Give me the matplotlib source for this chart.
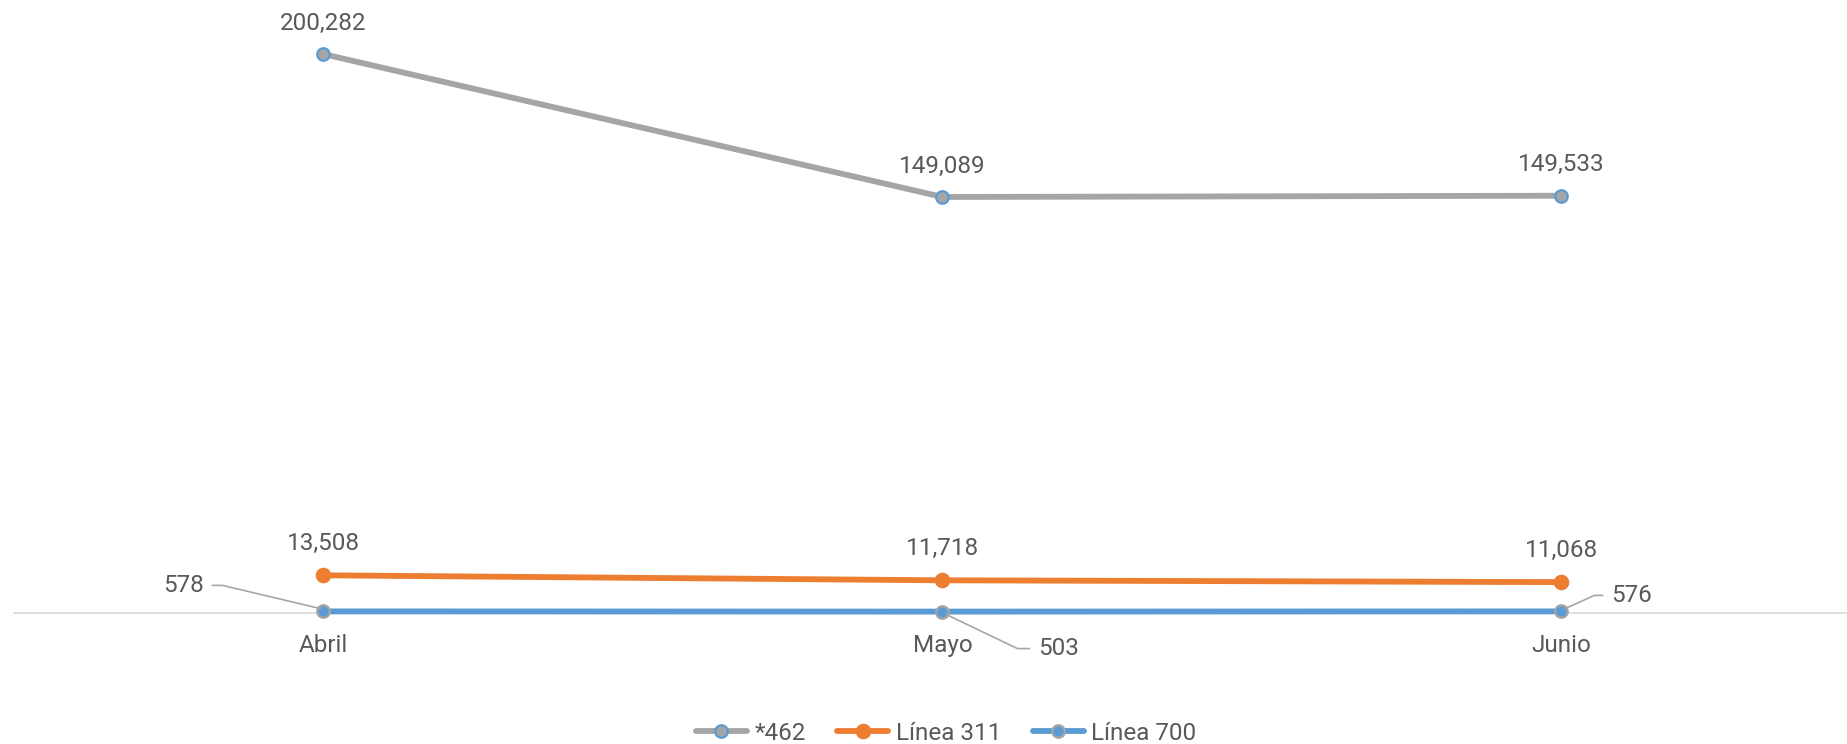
import matplotlib.pyplot as plt
from matplotlib.lines import Line2D
from matplotlib.transforms import IdentityTransform

plt.rcParams['font.family'] = ['Roboto', 'DejaVu Sans']

# datos
meses = ["Abril", "Mayo", "Junio"]
serie_462 = [200282, 149089, 149533]
linea_311 = [13508, 11718, 11068]
linea_700 = [578, 503, 576]

gris = "#A5A5A5"
naranja = "#ED7D31"
azul = "#5B9BD5"
texto = "#595959"

W, H = 1847, 744
fig = plt.figure(figsize=(W / 100, H / 100), dpi=100)
# area de trazado en pixeles
left, bottom = 14, 131
ax = fig.add_axes([left / W, bottom / H, (W - left) / W, 586 / H])

x = list(range(len(meses)))
ax.plot(x, serie_462, color=gris, lw=4.2, marker="o", ms=9,
        mfc=gris, mec=azul, mew=1.6, label="*462", solid_capstyle="round",
        clip_on=False, zorder=3)
ax.plot(x, linea_311, color=naranja, lw=4.2, marker="o", ms=10,
        mfc=naranja, mec=naranja, mew=1.2, label="Línea 311", solid_capstyle="round",
        clip_on=False, zorder=3)
ax.plot(x, linea_700, color=azul, lw=4.2, marker="o", ms=9,
        mfc=azul, mec=gris, mew=1.6, label="Línea 700", solid_capstyle="round",
        clip_on=False, zorder=3)

ax.set_xlim(-0.5, 2.5 - 24 / 619.5)
ax.set_ylim(0, 210000)

# etiquetas de datos
for xi, v in zip(x, serie_462):
    ax.annotate(f"{v:,}", (xi, v), xytext=(0, 31), textcoords="offset pixels",
                ha="center", va="center", fontsize=17.5, color=texto)
for xi, v in zip(x, linea_311):
    ax.annotate(f"{v:,}", (xi, v), xytext=(0, 32), textcoords="offset pixels",
                ha="center", va="center", fontsize=17.5, color=texto)

# etiquetas con lineas guia para Linea 700 (desplazamientos en pixeles)
# (texto dx, dy, codo dx, extremo dx)
guias = [(-140, 26, -101, -111),
         (116, -37, 75, 87),
         (70, 16, 33, 41)]
for xi, v, (tx, ty, kx, ex) in zip(x, linea_700, guias):
    px, py = ax.transData.transform((xi, v))
    fig.add_artist(Line2D([px + 4 * (1 if kx > 0 else -1), px + kx, px + ex],
                          [py + (3 if ty > 0 else -3), py + ty, py + ty],
                          transform=IdentityTransform(), color="#A6A6A6", lw=1.2,
                          zorder=1))
    ax.annotate(f"{v:,}", (xi, v), xytext=(tx, ty), textcoords="offset pixels",
                ha="center", va="center", fontsize=17.5, color=texto)

for s in ["top", "right", "left"]:
    ax.spines[s].set_visible(False)
ax.spines["bottom"].set_color("#D9D9D9")
ax.spines["bottom"].set_linewidth(1.2)
ax.set_yticks([])
ax.set_xticks(x)
ax.set_xticklabels(meses, fontsize=17.5, color=texto)
ax.tick_params(axis="x", length=0, pad=15)

fig.legend(loc="center", bbox_to_anchor=(946 / W, 1 - 733 / H), ncol=3,
           frameon=False, fontsize=17.5, labelcolor=texto, handlelength=2.1,
           handletextpad=0.3, columnspacing=1.3)

fig.savefig("out.png", dpi=100)
